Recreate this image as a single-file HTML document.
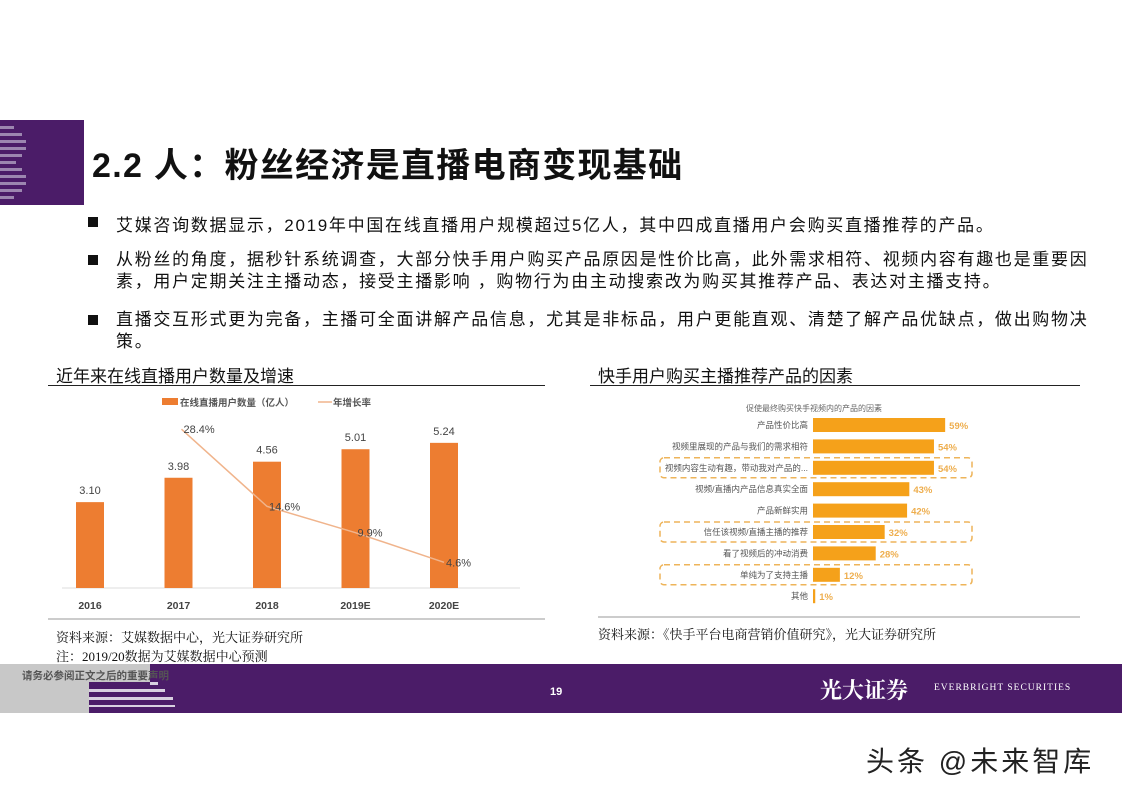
<!DOCTYPE html>
<html><head><meta charset="utf-8"><style>
body{margin:0;width:1122px;height:793px;background:#fff;position:relative;overflow:hidden;font-family:"Liberation Sans","Noto Sans CJK SC",sans-serif;}
.a{position:absolute;white-space:nowrap;}
.b{font-size:17px;color:#111;left:116px;letter-spacing:1.7px;}
.sq{position:absolute;left:88px;width:10px;height:10px;background:#111;}
.ser{font-family:"Liberation Serif","Noto Serif CJK SC",serif;font-size:13px;color:#111;}
</style></head><body>
<div class="a" style="left:0;top:120px;width:84px;height:85px;background:#4b1c68;overflow:hidden">
<svg width="84" height="85"><g fill="#9c86b0">
<rect x="0" y="6" width="14" height="3"/><rect x="0" y="13" width="22" height="3"/><rect x="0" y="20" width="26" height="3"/><rect x="0" y="27" width="26" height="3"/><rect x="0" y="34" width="22" height="3"/><rect x="0" y="41" width="16" height="3"/><rect x="0" y="48" width="22" height="3"/><rect x="0" y="55" width="26" height="3"/><rect x="0" y="62" width="26" height="3"/><rect x="0" y="69" width="22" height="3"/><rect x="0" y="76" width="14" height="3"/></g></svg></div>
<div class="a" style="left:92px;top:138px;font-size:34px;font-weight:bold;color:#111;letter-spacing:1.3px">2.2 人：粉丝经济是直播电商变现基础</div>
<div class="sq" style="top:217px"></div>
<div class="a b" style="top:211px">艾媒咨询数据显示，2019年中国在线直播用户规模超过5亿人，其中四成直播用户会购买直播推荐的产品。</div>
<div class="sq" style="top:255px"></div>
<div class="a b" style="top:249px;line-height:22px">从粉丝的角度，据秒针系统调查，大部分快手用户购买产品原因是性价比高，此外需求相符、视频内容有趣也是重要因<br>素，用户定期关注主播动态，接受主播影响 ，购物行为由主动搜索改为购买其推荐产品、表达对主播支持。</div>
<div class="sq" style="top:315px"></div>
<div class="a b" style="top:309px;line-height:22px">直播交互形式更为完备，主播可全面讲解产品信息，尤其是非标品，用户更能直观、清楚了解产品优缺点，做出购物决<br>策。</div>

<div class="a" style="left:56px;top:362px;font-size:17px;color:#111">近年来在线直播用户数量及增速</div>
<div class="a" style="left:48px;top:385px;width:497px;height:1px;background:#222"></div>
<div class="a" style="left:598px;top:362px;font-size:17px;color:#111">快手用户购买主播推荐产品的因素</div>
<div class="a" style="left:590px;top:385px;width:490px;height:1px;background:#222"></div>

<svg class="a" style="left:0;top:0" width="1122" height="793" id="charts">
<g id="left"></g><g id="right"></g>
</svg>

<div class="a ser" style="left:56px;top:627px">资料来源：艾媒数据中心，光大证券研究所</div>
<div class="a ser" style="left:56px;top:646px">注：2019/20数据为艾媒数据中心预测</div>
<div class="a ser" style="left:598px;top:624px">资料来源：《快手平台电商营销价值研究》，光大证券研究所</div>

<div class="a" style="left:0;top:664px;width:1122px;height:49px;background:#4b1c68"></div>
<div class="a" style="left:0;top:664px;width:89px;height:49px;background:#c8c8c8"></div>
<div class="a" style="left:0;top:664px;width:150px;height:18px;background:#c8c8c8"></div>
<svg class="a" style="left:89px;top:664px" width="90" height="49"><g fill="#d8d0e0"><rect x="61" y="18" width="8" height="3"/><rect x="0" y="25" width="76" height="3"/><rect x="0" y="33" width="84" height="3"/><rect x="0" y="41" width="86" height="2"/></g></svg>
<div class="a" style="left:22px;top:668px;font-size:10.5px;color:#555;font-weight:bold">请务必参阅正文之后的重要声明</div>
<div class="a" style="left:550px;top:686px;font-size:11px;color:#fff;font-weight:bold">19</div>
<div class="a" style="left:820px;top:674px;font-size:22px;color:#fff;font-family:'Noto Serif CJK SC',serif;font-weight:bold">光大证券</div>
<div class="a" style="left:934px;top:683px;font-size:9.5px;color:#fff;letter-spacing:1px;font-family:'Liberation Serif',serif">EVERBRIGHT SECURITIES</div>
<div class="a" style="left:866px;top:740px;font-size:28px;color:#222;letter-spacing:3px">头条 @未来智库</div>

<script>
const years=["2016","2017","2018","2019E","2020E"];
const users=[3.10,3.98,4.56,5.01,5.24];
const growth=[null,28.4,14.6,9.9,4.6];
const factors=["产品性价比高","视频里展现的产品与我们的需求相符","视频内容生动有趣，带动我对产品的...","视频/直播内产品信息真实全面","产品新鲜实用","信任该视频/直播主播的推荐","看了视频后的冲动消费","单纯为了支持主播","其他"];
const shares=[59,54,54,43,42,32,28,12,1];
const highlighted=[2,5,7];

const NS="http://www.w3.org/2000/svg";
function mk(p,t,a,txt){const e=document.createElementNS(NS,t);for(const k in a)e.setAttribute(k,a[k]);if(txt!=null)e.textContent=txt;p.appendChild(e);return e;}
const L=document.getElementById('left'),R=document.getElementById('right');
const base=588,x0=90,step=88.5;
const xs=i=>x0+i*step, yu=v=>base-v*27.7, yg=v=>base-v*5.59;
let e=mk(L,'line',{x1:62,y1:base,x2:520,y2:base,stroke:'#ddd'});


e=mk(L,'line',{x1:48,y1:619,x2:545,y2:619,stroke:'#999'});


e=mk(L,'rect',{x:162,y:398,width:16,height:7,fill:'#ed7d31'});


e=mk(L,'text',{x:180,y:406,'font-size':9.5,fill:'#555','font-weight':'bold'},'在线直播用户数量（亿人）');


e=mk(L,'line',{x1:318,y1:402,x2:332,y2:402,stroke:'#f0b48c','stroke-width':1.5});


e=mk(L,'text',{x:333,y:406,'font-size':9.5,fill:'#555','font-weight':'bold'},'年增长率');


years.forEach((y,i)=>{
 e=mk(L,'rect',{x:xs(i)-14,y:yu(users[i]),width:28,height:base-yu(users[i]),fill:'#ed7d31'});
 
 
 e=mk(L,'text',{x:xs(i),y:yu(users[i])-8,'font-size':11,fill:'#444','text-anchor':'middle'},users[i].toFixed(2));
 
 
 e=mk(L,'text',{x:xs(i),y:609,'font-size':10.5,fill:'#444','font-weight':'bold','text-anchor':'middle'},y);
 
 
});
let pts=[];growth.forEach((g,i)=>{if(g!=null)pts.push([xs(i)+(i==1?3:0),yg(g)]);});
e=mk(L,'polyline',{points:pts.map(p=>p.join(',')).join(' '),fill:'none',stroke:'#f0b48c','stroke-width':1.5});


growth.forEach((g,i)=>{if(g==null)return;
 e=mk(L,'text',{x:xs(i)+(i==1?5:2),y:yg(g)+4,'font-size':11,fill:'#444'},g.toFixed(1)+'%');
 
 
});
e=mk(R,'text',{x:814,y:411,'font-size':8,fill:'#666','text-anchor':'middle'},'促使最终购买快手视频内的产品的因素');


e=mk(R,'line',{x1:598,y1:617,x2:1080,y2:617,stroke:'#999'});


const ax=813,ry0=425,rstep=21.4,sc=2.24;
highlighted.forEach(i=>{
 e=mk(R,'rect',{x:660,y:ry0+i*rstep-10,width:312,height:20,rx:4,fill:'none',stroke:'#eeb45a','stroke-width':1.5,'stroke-dasharray':'6,4'});
 
 
});
factors.forEach((f,i)=>{const cy=ry0+i*rstep;
 e=mk(R,'text',{x:808,y:cy+3,'font-size':8.5,fill:'#555','text-anchor':'end'},f);
 
 
 e=mk(R,'rect',{x:ax,y:cy-7,width:shares[i]*sc,height:14,fill:'#f5a11a'});
 
 
 e=mk(R,'text',{x:ax+shares[i]*sc+4,y:cy+4,'font-size':9.5,fill:'#eeae4e','font-weight':'bold'},shares[i]+'%');
 
 
});
</script>
</body></html>
